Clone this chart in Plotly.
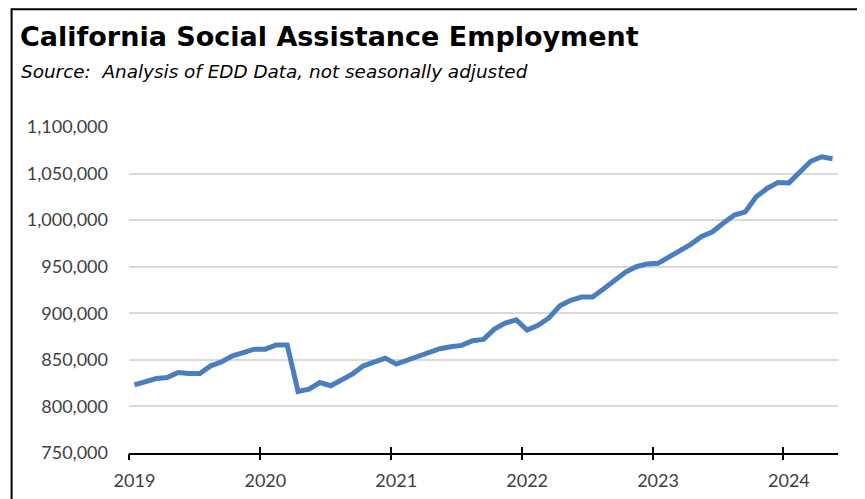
import plotly.graph_objects as go

month_names = ["Jan", "Feb", "Mar", "Apr", "May", "Jun", "Jul", "Aug", "Sep", "Oct", "Nov", "Dec"]
months = [f"{m} {y}" for y in range(2019, 2025) for m in month_names][:65]

employment = [
    823200, 826800, 830000, 831000, 836400, 835300, 835300, 843600, 847900, 854300, 858200, 861500,
    861500, 866000, 866000, 816000, 818600, 825700, 822200, 828600, 835000, 843600, 847100, 851800,
    845400, 849300, 852900, 858200, 862000, 864000, 865500, 870500, 872000, 883000, 889500, 893000,
    882000, 887000, 895000, 908000, 914000, 917500, 917500, 926000, 934500, 944000, 950000, 953000,
    953600, 960500, 966800, 974000, 982500, 987500, 997000, 1005500, 1008800, 1025000, 1034000, 1040500,
    1040000, 1052500, 1063200, 1068000, 1066000,
]

year_labels = ["2019", "2020", "2021", "2022", "2023", "2024"]
year_categories = [f"Jan {y}" for y in year_labels]
y_ticks = [750000, 800000, 850000, 900000, 950000, 1000000, 1050000, 1100000]

TICK_FONT = "Lato"
TITLE_FONT = "DejaVu Sans"

# figure size (page body adds 8px margin)
W, H = 857, 491
L, R, T, B = 121.3, 27.3, 118.5, 45.6
pw, ph = W - L - R, H - T - B


def px_x(x):
    return (x - L) / pw


def px_y(y):
    return (H - B - y) / ph


n = len(months)
idx = list(range(n))
boundaries = [months.index(c) - 0.5 for c in year_categories]

fig = go.Figure()
fig.add_trace(go.Scatter(
    x=months, y=employment, mode="lines",
    line=dict(color="#4a7ebf", width=5),
    showlegend=False,
))
# invisible traces carrying the overlay axes used for the crossing tick marks
fig.add_trace(go.Scatter(x=idx, y=employment, xaxis="x2", mode="lines",
                         line=dict(width=0), showlegend=False, hoverinfo="skip"))
fig.add_trace(go.Scatter(x=idx, y=employment, xaxis="x3", mode="lines",
                         line=dict(width=0), showlegend=False, hoverinfo="skip"))

fig.update_layout(
    width=W, height=H, autosize=False,
    margin=dict(l=L, r=R, t=T, b=B, autoexpand=False),
    paper_bgcolor="white", plot_bgcolor="white",
    font=dict(family=TICK_FONT, color="#404040", size=18),
    title=dict(
        text="<b>California Social Assistance Employment</b>",
        xref="container", yref="container", x=12 / W, y=1 - 29 / H,
        xanchor="left", yanchor="middle",
        font=dict(family=TITLE_FONT, size=27, color="black"),
        automargin=False,
    ),
    xaxis=dict(
        type="category", range=[-0.5, n - 0.5],
        tickvals=year_categories, ticktext=year_labels,
        showgrid=False, showline=True, linecolor="black", linewidth=2,
        ticks="", ticklabelstandoff=10, automargin=False,
        tickfont=dict(size=18, color="#404040"),
        zeroline=False,
    ),
    xaxis2=dict(
        type="linear", range=[-0.5, n - 0.5], overlaying="x", side="bottom", anchor="y",
        tickvals=boundaries, showticklabels=False, automargin=False,
        ticks="outside", ticklen=6, tickwidth=2, tickcolor="black",
        showgrid=False, showline=False, zeroline=False,
    ),
    xaxis3=dict(
        type="linear", range=[-0.5, n - 0.5], overlaying="x", side="bottom", anchor="y",
        tickvals=boundaries, showticklabels=False, automargin=False,
        ticks="inside", ticklen=6, tickwidth=2, tickcolor="black",
        showgrid=False, showline=False, zeroline=False,
    ),
    yaxis=dict(
        range=[750000, 1100000], tickvals=y_ticks, tickformat=",d",
        showgrid=True, gridcolor="#d9d9d9", gridwidth=2,
        showline=False, zeroline=False, ticks="", automargin=False,
        ticklabelstandoff=20,
        tickfont=dict(size=18, color="#404040"),
    ),
    annotations=[dict(
        text="<i>Source:  Analysis of EDD Data, not seasonally adjusted</i>",
        xref="paper", yref="paper",
        x=px_x(11), y=px_y(63),
        xanchor="left", yanchor="middle", showarrow=False,
        font=dict(family=TITLE_FONT, size=18.4, color="black"),
    )],
    shapes=[dict(
        type="rect", xref="paper", yref="paper",
        x0=px_x(4), x1=px_x(W + 30),
        y0=px_y(H + 30), y1=px_y(0.5),
        line=dict(color="black", width=2), fillcolor="rgba(0,0,0,0)", layer="below",
    )],
)

fig.write_html("out.html")
